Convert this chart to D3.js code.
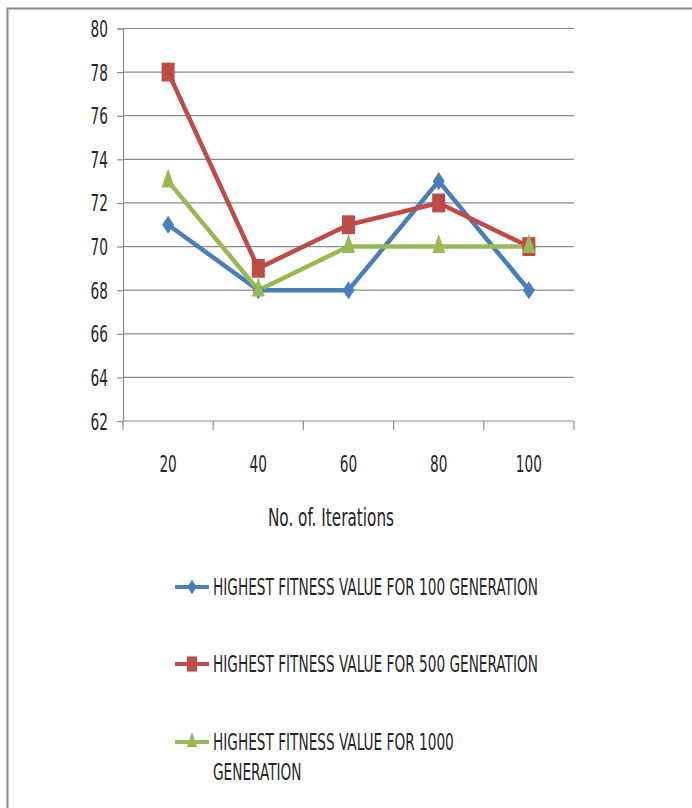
<!DOCTYPE html>
<html>
<head>
<meta charset="utf-8">
<script src="https://cdn.jsdelivr.net/npm/d3@7"></script>
<style>
  html, body { margin: 0; padding: 0; background: #fff; }
  svg { display: block; }
  text { font-family: "Liberation Sans Narrow", "DejaVu Sans Condensed", "Arial Narrow", sans-serif; fill: #262626; }
</style>
</head>
<body>
<svg id="chart" width="692" height="808"></svg>
<script>
// Iteration counts along the x axis
const categories = ["20", "40", "60", "80", "100"];
// Highest fitness value reached for each generation count
const gen100 = [71, 68, 68, 73, 68];
const gen500 = [78, 69, 71, 72, 70];
const gen1000 = [73, 68, 70, 70, 70];
const yTicks = [62, 64, 66, 68, 70, 72, 74, 76, 78, 80];
const seriesNames = [
  "HIGHEST FITNESS VALUE FOR 100 GENERATION",
  "HIGHEST FITNESS VALUE FOR 500 GENERATION",
  "HIGHEST FITNESS VALUE FOR 1000 GENERATION"
];
const xTitle = "No. of. Iterations";

const series = [
  { name: seriesNames[0], values: gen100, color: "#4a7ebb", symbol: d3.symbolDiamond, size: 94, sx: 1.15, sy: 1.0 },
  { name: seriesNames[1], values: gen500, color: "#be4b48", symbol: d3.symbolSquare, size: 169, sx: 1, sy: 1.45 },
  { name: seriesNames[2], values: gen1000, color: "#98b954", symbol: d3.symbolTriangle, size: 73, sx: 1, sy: 1.7 }
];

const svg = d3.select("#chart");
const TSX = 0.76, TSY = 1.15; // condensed, tall lettering

// outer frame
svg.append("path")
  .attr("d", "M7.5,808 V8.5 H692")
  .attr("fill", "none").attr("stroke", "#8a8a8a").attr("stroke-width", 2);

const x = d3.scaleBand().domain(categories).range([123, 574]).paddingInner(0).paddingOuter(0);
const y = d3.scaleLinear().domain([62, 80]).range([421, 28.5]);
const cx = c => x(c) + x.bandwidth() / 2;

// horizontal gridlines
svg.append("g").selectAll("line").data(yTicks.slice(1)).join("line")
  .attr("x1", 123).attr("x2", 574)
  .attr("y1", d => y(d)).attr("y2", d => y(d))
  .attr("stroke", "#8c8c8c").attr("stroke-width", 1.2);

// y axis
const yAxis = svg.append("g").attr("transform", "translate(123,0)")
  .call(d3.axisLeft(y).tickValues(yTicks).tickSize(6).tickPadding(0).tickFormat(d3.format("d")));
yAxis.select(".domain").attr("stroke", "#8c8c8c").attr("stroke-width", 1.2);
yAxis.selectAll(".tick line").attr("stroke", "#8c8c8c").attr("stroke-width", 1.2);
yAxis.selectAll(".tick text")
  .attr("x", null).attr("dy", null)
  .attr("font-size", 20).attr("text-anchor", "end")
  .attr("transform", `translate(-15,8) scale(${TSX},${TSY})`);

// x axis line and category boundary ticks
svg.append("line").attr("x1", 123).attr("x2", 574).attr("y1", 421).attr("y2", 421)
  .attr("stroke", "#8c8c8c").attr("stroke-width", 1.2);
const bounds = categories.map(c => x(c)).concat([x(categories[categories.length - 1]) + x.bandwidth()]);
svg.append("g").selectAll("line").data(bounds).join("line")
  .attr("x1", d => d).attr("x2", d => d).attr("y1", 421).attr("y2", 430)
  .attr("stroke", "#8c8c8c").attr("stroke-width", 1.2);
svg.append("g").selectAll("text").data(categories).join("text")
  .attr("font-size", 20).attr("text-anchor", "middle")
  .attr("transform", d => `translate(${cx(d)},471.5) scale(${TSX},${TSY})`)
  .text(d => d);

// x axis title
svg.append("text").attr("font-size", 20).attr("text-anchor", "middle")
  .attr("transform", `translate(331,525.5) scale(0.85,1.23)`)
  .text(xTitle);

// series lines and markers
const line = d3.line().x((d, i) => cx(categories[i])).y(d => y(d));
series.forEach(s => {
  svg.append("path").datum(s.values)
    .attr("d", line).attr("fill", "none")
    .attr("stroke", s.color).attr("stroke-width", 4.5).attr("stroke-linejoin", "round");
});
series.forEach(s => {
  svg.append("g").selectAll("path").data(s.values).join("path")
    .attr("d", d3.symbol().type(s.symbol).size(s.size))
    .attr("transform", (d, i) => `translate(${cx(categories[i])},${y(d)}) scale(${s.sx},${s.sy})`)
    .attr("fill", s.color);
});

// legend
const legendY = [587, 664, 742];
series.forEach((s, i) => {
  const g = svg.append("g").attr("transform", `translate(0,${legendY[i]})`);
  g.append("line").attr("x1", 175).attr("x2", 209).attr("y1", 0).attr("y2", 0)
    .attr("stroke", s.color).attr("stroke-width", 4);
  g.append("path").attr("d", d3.symbol().type(s.symbol).size(s.size))
    .attr("transform", `translate(192,0) scale(${s.sx * 0.8},${s.sy * 0.8})`).attr("fill", s.color);
  const t = g.append("text").attr("font-size", 20)
    .attr("transform", `translate(213,8) scale(${TSX},${TSY})`);
  if (i === 2) {
    const words = s.name.split(" ");
    t.append("tspan").attr("x", 0).attr("y", 0).text(words.slice(0, -1).join(" "));
    t.append("tspan").attr("x", 0).attr("y", 26).text(words[words.length - 1]);
  } else {
    t.text(s.name);
  }
});
</script>
</body>
</html>
